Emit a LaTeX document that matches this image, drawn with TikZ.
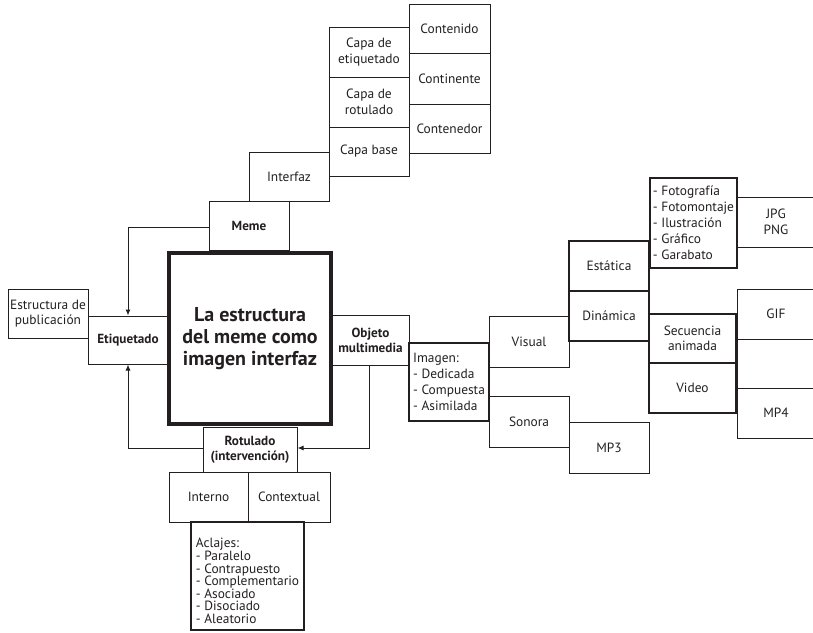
\documentclass[tikz,border=0pt]{standalone}
\usepackage{fontspec}
\setmainfont{PT Sans}
\usetikzlibrary{arrows.meta}
\definecolor{ink}{HTML}{231F20}
\tikzset{
  bx/.style={draw=ink, line width=1pt, inner sep=1pt, align=center, text=ink,
    font=\fontsize{13.4}{15.5}\selectfont},
  tbx/.style={bx, line width=1.8pt},
  bbx/.style={bx, font=\bfseries\fontsize{13.2}{15}\selectfont},
  lst/.style={align=left, text=ink, inner sep=0pt, font=\fontsize{13.4}{16}\selectfont},
  conn/.style={draw=ink, line width=1pt, -{Latex[length=6pt,width=5pt]}},
}
\newcommand{\mybox}[7]{\node[#6, minimum width={(#4-#2)*1pt}, minimum height={(#5-#3)*1pt}] (#1) at ({(#2+#4)/2},{(#3+#5)/2}) {#7};}
\begin{document}
\begin{tikzpicture}[x=1pt,y=-1pt]
\useasboundingbox (0,0) rectangle (813,632);
% top stacks
\mybox{contenido}{409}{4}{490}{53}{bx}{Contenido}
\mybox{continente}{409}{53}{490}{104}{bx}{Continente}
\mybox{contenedor}{409}{104}{490}{153}{bx}{Contenedor}
\mybox{capaetiq}{329}{27}{409}{77}{bx}{Capa de\\etiquetado}
\mybox{caparot}{329}{77}{409}{127}{bx}{Capa de\\rotulado}
\mybox{capabase}{329}{127}{409}{176}{bx}{Capa base}
\mybox{interfaz}{249}{152}{329}{201}{bx}{Interfaz}
\mybox{meme}{209}{201}{289}{250}{bbx}{Meme}
% main
\mybox{main}{169}{253}{331}{424}{bx, line width=4pt, font=\bfseries\fontsize{20}{22}\selectfont}{La estructura\\del meme como\\imagen interfaz}
% left
\mybox{estructura}{8}{289}{88}{338}{bx}{Estructura de\\publicación}
\mybox{etiquetado}{88}{316}{168}{364}{bbx}{Etiquetado}
% right
\mybox{objeto}{332}{315}{409}{365}{bbx}{Objeto\\multimedia}
\mybox{imagen}{409}{343}{489}{421}{tbx}{}
\node[lst] (imagentext) at (imagen.center) {Imagen:\\- Dedicada\\- Compuesta\\- Asimilada};
\mybox{visual}{489}{316}{569}{367}{bx}{Visual}
\mybox{sonora}{489}{396}{569}{447}{bx}{Sonora}
\mybox{mp3}{569}{422}{649}{473}{bx}{MP3}
\mybox{estatica}{569}{241}{649}{291}{bx, line width=1.4pt}{Estática}
\mybox{dinamica}{569}{291}{649}{341}{bx, line width=1.4pt}{Dinámica}
\mybox{fotolist}{650}{178}{737}{268}{tbx}{}
\node[lst] (fototext) at (fotolist.center) {- Fotografía\\- Fotomontaje\\- Ilustración\\- Gráfico\\- Garabato};
\mybox{jpg}{737}{197}{815}{247}{bx}{JPG\\PNG}
\mybox{secuencia}{649}{314}{736}{363}{tbx}{Secuencia\\animada}
\mybox{video}{649}{363}{736}{413}{tbx}{Video}
\mybox{gif}{737}{289}{815}{339}{bx}{GIF}
\mybox{gap}{737}{339}{815}{388}{bx}{}
\mybox{mp4}{737}{388}{815}{438}{bx}{MP4}
% bottom
\mybox{rotulado}{203}{427}{297}{472}{bbx}{Rotulado\\(intervención)}
\mybox{interno}{169}{472}{248}{522}{bx}{Interno}
\mybox{contextual}{248}{472}{330}{522}{bx}{Contextual}
\mybox{aclajes}{191}{522}{304}{630}{tbx}{}
\node[lst, font=\fontsize{13.4}{12.6}\selectfont] (aclajestext) at ([yshift=-5pt]aclajes.center) {Aclajes:\\- Paralelo\\- Contrapuesto\\- Complementario\\- Asociado\\- Disociado\\- Aleatorio};
% connectors
\draw[conn] ([yshift=-1.5pt]meme.west) -| (etiquetado.north);
\draw[conn] ([yshift=1.5pt]rotulado.west) -| (etiquetado.south);
\draw[conn] ([xshift=-1.5pt]objeto.south) |- ([yshift=1.5pt]rotulado.east);
\end{tikzpicture}
\end{document}
